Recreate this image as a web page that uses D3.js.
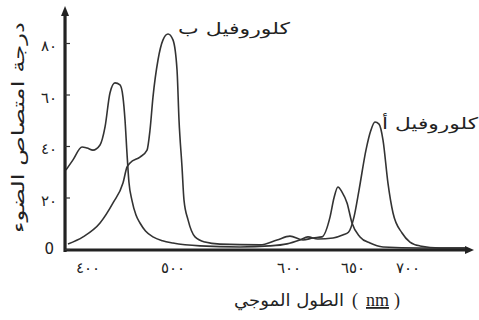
<!DOCTYPE html>
<html>
<head>
<meta charset="utf-8">
<script src="https://cdn.jsdelivr.net/npm/d3@7"></script>
<style>
  html, body { margin: 0; padding: 0; background: #fff; }
  svg { display: block; }
</style>
</head>
<body>
<svg id="viz" width="479" height="320"></svg>
<script>
// Absorption spectra: [wavelength nm, absorption]
const chlorophyllA = [
    [376.5, 30.7], [384.7, 34.6], [395.3, 39.6], [401.2, 39.2], [408.2, 38.4],
    [416.5, 40.4], [422.4, 47.4], [428.2, 60.6], [434.1, 64.5], [440, 63.7],
    [443.5, 59], [445.9, 50.1], [448.2, 37.3], [450.5, 26], [454, 19],
    [458.8, 13.2], [463.5, 10.1], [470, 7], [478.8, 4.7], [490, 3.2],
    [501.7, 2.3], [525, 1.2], [559.5, 0.8], [585, 1.2], [600, 2],
    [610, 3.5], [616.4, 4.7], [624, 3.9], [636, 4.3], [644, 5.5],
    [648, 6.5], [652.7, 12.4], [657.3, 22.9], [663.6, 38.4], [668, 46],
    [671.8, 49.3], [675.5, 48.5], [679.1, 42.3], [683.6, 25.6], [688.2, 14],
    [696.4, 6.2], [703.6, 2.7], [712.7, 1.2], [731, 0.4], [754, 0.4]
];
const chlorophyllB = [
    [378.8, 1.9], [396.5, 4.7], [416.5, 10.1], [431.8, 17.9], [443.5, 25.6],
    [448.2, 31.8], [451.8, 33.4], [463.5, 35.7], [471.8, 38.4], [475.3, 46.2],
    [478.8, 59], [484.7, 73.4], [490.6, 81.2], [496.5, 83.5], [501.7, 81.2],
    [505.2, 69.5], [506.9, 50.1], [509.5, 31.8], [511.2, 19], [514.7, 11.3],
    [520.7, 4.7], [529.3, 2.7], [542.2, 1.9], [576.7, 1.6], [591.4, 3.5],
    [602.3, 5], [612.5, 3.5], [620.3, 4.3], [627.3, 4.7], [633.6, 12.4],
    [636.7, 19.8], [639.8, 24.1], [643, 22.1], [646.9, 17.9], [650.9, 10.1],
    [658.2, 4.7], [667.3, 2.3], [679.1, 0.8], [712.7, 0.4], [754, 0.4]
];
const xTicks = [400, 500, 600, 650, 700];
const yTicks = [0, 20, 40, 60, 80];
const labelA = "كلوروفيل أ";
const labelB = "كلوروفيل ب";
const yTitle = "درجة امتصاص الضوء";
const xTitle = "الطول الموجي";
const xUnit = "nm";

const arDigits = "٠١٢٣٤٥٦٧٨٩";
const toArabic = n => String(n).replace(/\d/g, d => arDigits[d]);
const font = "DejaVu Sans, sans-serif";
const ink = "#222";

const svg = d3.select("#viz");

// hand drawn axis: the labelled wavelengths are not evenly spaced
const x = d3.scaleLinear()
    .domain(xTicks)
    .range([86, 171, 287, 351, 406]);
const y = d3.scaleLinear()
    .domain([0, 80])
    .range([249, 43]);

const x0 = x(376.5) - 1;
const xEnd = 474;
const yTop = 6;

// curves
const line = d3.line()
    .x(d => x(d[0]))
    .y(d => y(d[1]))
    .curve(d3.curveMonotoneX);

[chlorophyllA, chlorophyllB].forEach(series => {
    svg.append("path")
        .datum(series)
        .attr("d", line)
        .attr("fill", "none")
        .attr("stroke", "#333")
        .attr("stroke-width", 1.6)
        .attr("stroke-linejoin", "round");
});

// axes
svg.append("line")
    .attr("x1", x0).attr("x2", xEnd - 6)
    .attr("y1", y(0) + 1).attr("y2", y(0) + 1)
    .attr("stroke", ink).attr("stroke-width", 3);
svg.append("path")
    .attr("d", `M${xEnd},${y(0) + 1} L${xEnd - 9},${y(0) - 3} L${xEnd - 9},${y(0) + 5} Z`)
    .attr("fill", ink);

svg.append("line")
    .attr("x1", x0).attr("x2", x0)
    .attr("y1", y(0) + 3).attr("y2", yTop + 6)
    .attr("stroke", ink).attr("stroke-width", 3.2);
svg.append("path")
    .attr("d", `M${x0},${yTop} L${x0 - 4},${yTop + 10} L${x0 + 4},${yTop + 10} Z`)
    .attr("fill", ink);

const yAxis = svg.append("g")
    .attr("transform", `translate(${x0},0)`)
    .call(d3.axisLeft(y)
        .tickValues(yTicks)
        .tickSizeInner(-5)
        .tickSizeOuter(0)
        .tickPadding(8)
        .tickFormat(d => d === 0 ? "0" : toArabic(d)));
yAxis.select(".domain").remove();
yAxis.selectAll(".tick line").attr("stroke", "#333").attr("stroke-width", 1.2);
yAxis.selectAll(".tick text")
    .style("font-family", font)
    .style("font-size", "15px")
    .attr("letter-spacing", 3)
    .attr("fill", ink)
    .filter(d => d > 0).attr("y", 3);

svg.append("g").selectAll("text")
    .data(xTicks)
    .join("text")
    .attr("x", d => x(d) + 2)
    .attr("y", 273)
    .attr("text-anchor", "middle")
    .style("font-family", font)
    .style("font-size", "15px")
    .attr("letter-spacing", 4)
    .attr("fill", ink)
    .text(d => toArabic(d));

// series labels, stretched to the width they take in the print
function arabicLabel(text, xr, yb, len, size) {
    return svg.append("text")
        .attr("x", xr - len).attr("y", yb)
        .attr("textLength", len)
        .attr("lengthAdjust", "spacingAndGlyphs")
        .style("font-family", font)
        .style("font-size", size + "px")
        .attr("fill", ink)
        .text(text);
}
arabicLabel(labelB, 290, 34, 112, 16);
arabicLabel(labelA, 478, 129, 96, 16);

// y title
svg.append("text")
    .attr("transform", "translate(24,233) rotate(-90)")
    .attr("textLength", 211)
    .attr("lengthAdjust", "spacingAndGlyphs")
    .style("font-family", font)
    .style("font-size", "17px")
    .attr("fill", ink)
    .text(yTitle);

// x title: arabic words, then "( nm )" to their right
arabicLabel(xTitle, 344, 306, 110, 17);

const unit = svg.append("g")
    .style("font-family", "Liberation Serif, serif")
    .style("font-size", "18px")
    .attr("fill", ink);
const parts = ["(", xUnit, ")"];
const partX = [352, 366, 394];
parts.forEach((p, i) => {
    unit.append("text")
        .attr("x", partX[i]).attr("y", 306)
        .attr("direction", "ltr")
        .attr("text-decoration", p === xUnit ? "underline" : null)
        .text(p);
});
</script>
</body>
</html>
